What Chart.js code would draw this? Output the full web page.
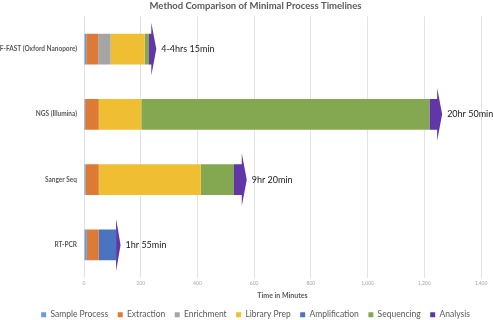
<!DOCTYPE html>
<html>
<head>
<meta charset="utf-8">
<script src="https://cdn.jsdelivr.net/npm/chart.js@4/dist/chart.umd.min.js"></script>
<style>
html,body{margin:0;padding:0;background:#fff;}
#wrap{width:493px;height:320px;position:relative;}
</style>
</head>
<body>
<div id="wrap"><canvas id="c" width="493" height="320"></canvas></div>
<script>
const categories = ['F-FAST (Oxford Nanopore)', 'NGS (Illumina)', 'Sanger Seq', 'RT-PCR'];
const sampleProcess = [8, 4, 5, 10];
const extraction = [42, 48, 47, 42];
const enrichment = [44, 0, 0, 0];
const libraryPrep = [120, 150, 360, 0];
const amplification = [0, 0, 0, 61];
const sequencing = [15, 1017, 117, 0];
const analysis = [26, 44, 45, 16];
const totalLabels = ['4-4hrs 15min', '20hr 50min', '9hr 20min', '1hr 55min'];
const xTicks = [0, 200, 400, 600, 800, 1000, 1200, 1400];

const ANALYSIS_IDX = 6;

const arrowPlugin = {
  id: 'arrowPlugin',
  afterLayout(chart) {
    // let the y-axis labels spill into the left padding instead of being clipped
    chart.scales.y.left = 0;
  },
  beforeDatasetDraw(chart, args) {
    if (args.index === ANALYSIS_IDX) return false;
  },
  afterDatasetsDraw(chart) {
    const ctx = chart.ctx;
    const meta = chart.getDatasetMeta(ANALYSIS_IDX);
    const color = chart.data.datasets[ANALYSIS_IDX].backgroundColor;
    meta.data.forEach((el, i) => {
      const p = el.getProps(['x', 'y', 'base', 'height'], true);
      const x0 = p.base, x1 = p.x, yc = p.y, h = p.height;
      const yTop = yc - h / 2, yBot = yc + h / 2;
      const headLen = Math.min(5, x1 - x0);
      const hb = x1 - headLen;
      const ext = 11;
      ctx.save();
      ctx.fillStyle = color;
      ctx.beginPath();
      ctx.moveTo(x0, yTop);
      ctx.lineTo(hb, yTop);
      ctx.lineTo(hb, yTop - ext);
      ctx.lineTo(x1, yc);
      ctx.lineTo(hb, yBot + ext);
      ctx.lineTo(hb, yBot);
      ctx.lineTo(x0, yBot);
      ctx.closePath();
      ctx.fill();
      ctx.fillStyle = '#1a1a1a';
      ctx.font = '9px Lato';
      ctx.textBaseline = 'middle';
      ctx.textAlign = 'left';
      ctx.fillText(totalLabels[i], x1 + 5, yc);
      ctx.restore();
    });
  }
};

new Chart(document.getElementById('c'), {
  type: 'bar',
  data: {
    labels: categories,
    datasets: [
      { label: 'Sample Process', data: sampleProcess, backgroundColor: '#6C9BD2' },
      { label: 'Extraction', data: extraction, backgroundColor: '#DD7A35' },
      { label: 'Enrichment', data: enrichment, backgroundColor: '#A5A5A5' },
      { label: 'Library Prep', data: libraryPrep, backgroundColor: '#F0BE33' },
      { label: 'Amplification', data: amplification, backgroundColor: '#4A73C0' },
      { label: 'Sequencing', data: sequencing, backgroundColor: '#84A852' },
      { label: 'Analysis', data: analysis, backgroundColor: '#6236A6' }
    ]
  },
  options: {
    indexAxis: 'y',
    responsive: false,
    animation: false,
    maintainAspectRatio: false,
    datasets: { bar: { categoryPercentage: 1, barPercentage: 0.47, borderWidth: 0 } },
    layout: { padding: { left: 30, right: 12, top: 0, bottom: -9 } },
    plugins: {
      title: {
        display: true,
        text: 'Method Comparison of Minimal Process Timelines',
        color: '#595959',
        font: { family: 'Lato', size: 9.5, weight: 'bold' },
        padding: { top: 0, bottom: 5 }
      },
      legend: {
        position: 'bottom',
        labels: {
          boxWidth: 5, boxHeight: 5, padding: 9.5,
          color: '#595959',
          font: { family: 'Lato', size: 8.5 }
        }
      },
      tooltip: { enabled: false }
    },
    scales: {
      x: {
        stacked: true,
        min: 0, max: 1400,
        afterBuildTicks(scale) { scale.ticks = xTicks.map(v => ({ value: v })); },
        ticks: { color: '#a6a6a6', font: { family: 'Lato', size: 5 }, padding: 3, maxRotation: 0 },
        grid: { color: '#e3e3e3', drawTicks: false },
        border: { display: false },
        title: {
          display: true, text: 'Time in Minutes', color: '#595959',
          font: { family: 'Lato', size: 7, weight: 'bold' }, padding: { top: 2, bottom: 1 }
        }
      },
      y: {
        stacked: true,
        afterFit(scale) { scale.width = 54; },
        ticks: { color: '#595959', font: { family: 'Lato', size: 6.5, weight: 'bold' }, padding: 7 },
        grid: { display: false, drawTicks: false },
        border: { display: false }
      }
    }
  },
  plugins: [arrowPlugin]
});
</script>
</body>
</html>
